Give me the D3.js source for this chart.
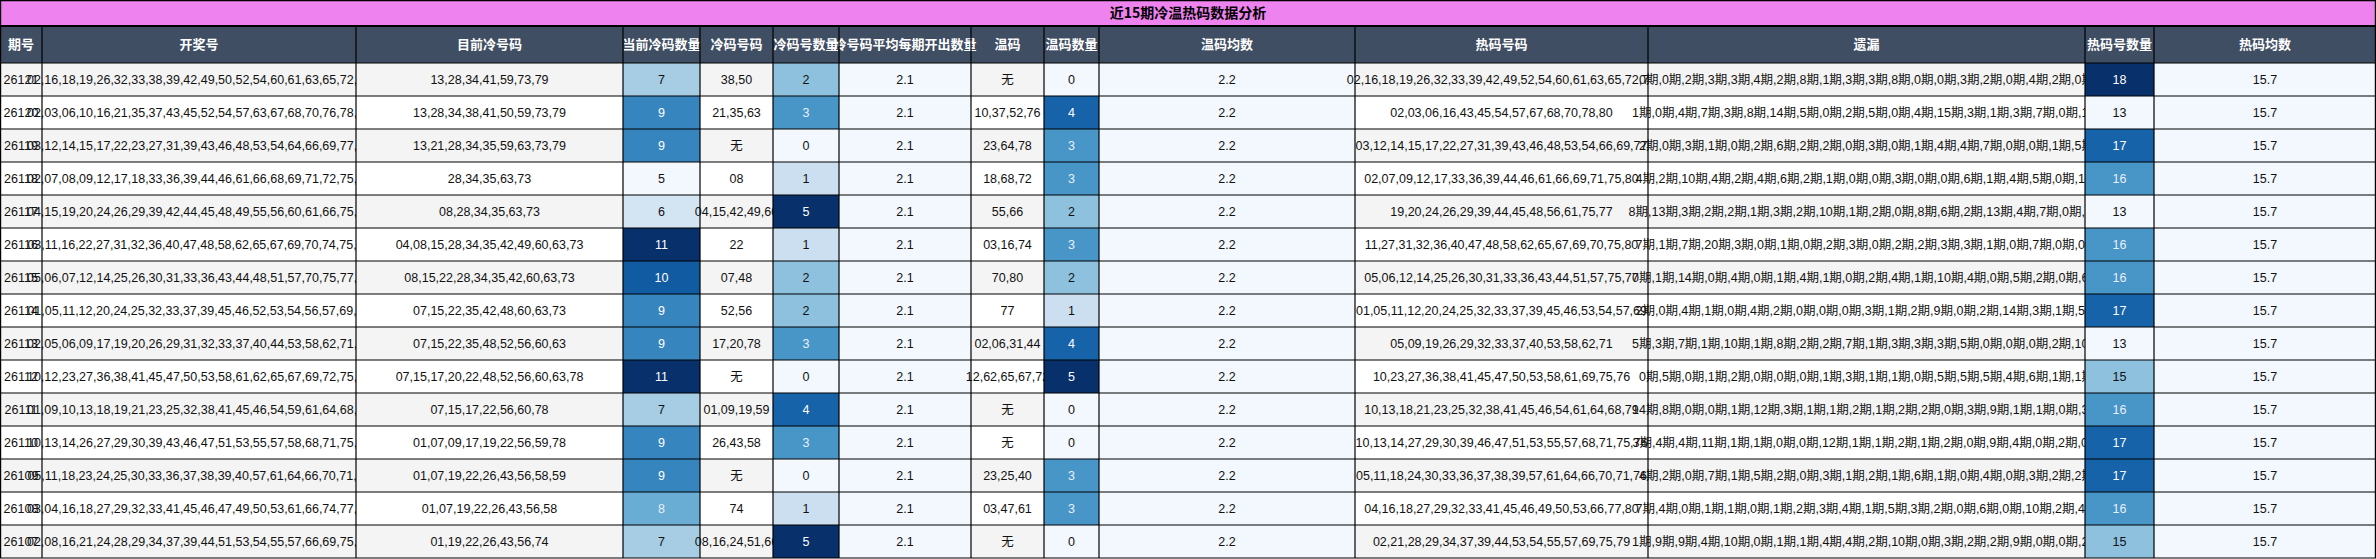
<!DOCTYPE html>
<html><head><meta charset="utf-8">
<script src="https://cdn.jsdelivr.net/npm/d3@7"></script>
<style>body{margin:0;background:#fff}</style></head>
<body><svg id="c" width="2376" height="559"></svg>
<script>
const title = "近15期冷温热码数据分析";
const headers = ["期号","开奖号","目前冷号码","当前冷码数量","冷码号码","冷码号数量","冷号码平均每期开出数量","温码","温码数量","温码均数","热码号码","遗漏","热码号数量","热码均数"];
const periods = ["26121","26120","26119","26118","26117","26116","26115","26114","26113","26112","26111","26110","26109","26108","26107"];
const draws = ["02,16,18,19,26,32,33,38,39,42,49,50,52,54,60,61,63,65,72,78","02,03,06,10,16,21,35,37,43,45,52,54,57,63,67,68,70,76,78,80","03,12,14,15,17,22,23,27,31,39,43,46,48,53,54,64,66,69,77,78","02,07,08,09,12,17,18,33,36,39,44,46,61,66,68,69,71,72,75,80","04,15,19,20,24,26,29,39,42,44,45,48,49,55,56,60,61,66,75,77","03,11,16,22,27,31,32,36,40,47,48,58,62,65,67,69,70,74,75,80","05,06,07,12,14,25,26,30,31,33,36,43,44,48,51,57,70,75,77,80","01,05,11,12,20,24,25,32,33,37,39,45,46,52,53,54,56,57,69,77","02,05,06,09,17,19,20,26,29,31,32,33,37,40,44,53,58,62,71,78","10,12,23,27,36,38,41,45,47,50,53,58,61,62,65,67,69,72,75,76","01,09,10,13,18,19,21,23,25,32,38,41,45,46,54,59,61,64,68,79","10,13,14,26,27,29,30,39,43,46,47,51,53,55,57,58,68,71,75,76","05,11,18,23,24,25,30,33,36,37,38,39,40,57,61,64,66,70,71,76","03,04,16,18,27,29,32,33,41,45,46,47,49,50,53,61,66,74,77,80","02,08,16,21,24,28,29,34,37,39,44,51,53,54,55,57,66,69,75,79"];
const currentCold = ["13,28,34,41,59,73,79","13,28,34,38,41,50,59,73,79","13,21,28,34,35,59,63,73,79","28,34,35,63,73","08,28,34,35,63,73","04,08,15,28,34,35,42,49,60,63,73","08,15,22,28,34,35,42,60,63,73","07,15,22,35,42,48,60,63,73","07,15,22,35,48,52,56,60,63","07,15,17,20,22,48,52,56,60,63,78","07,15,17,22,56,60,78","01,07,09,17,19,22,56,59,78","01,07,19,22,26,43,56,58,59","01,07,19,22,26,43,56,58","01,19,22,26,43,56,74"];
const currentColdCount = [7,9,9,5,6,11,10,9,9,11,7,9,9,8,7];
const coldNums = ["38,50","21,35,63","无","08","04,15,42,49,60","22","07,48","52,56","17,20,78","无","01,09,19,59","26,43,58","无","74","08,16,24,51,66"];
const coldCount = [2,3,0,1,5,1,2,2,3,0,4,3,0,1,5];
const coldAvg = Array(15).fill(2.1);
const warmNums = ["无","10,37,52,76","23,64,78","18,68,72","55,66","03,16,74","70,80","77","02,06,31,44","12,62,65,67,72","无","无","23,25,40","03,47,61","无"];
const warmCount = [0,4,3,3,2,3,2,1,4,5,0,0,3,3,0];
const warmAvg = Array(15).fill(2.2);
const hotNums = ["02,16,18,19,26,32,33,39,42,49,52,54,60,61,63,65,72,78","02,03,06,16,43,45,54,57,67,68,70,78,80","03,12,14,15,17,22,27,31,39,43,46,48,53,54,66,69,77","02,07,09,12,17,33,36,39,44,46,61,66,69,71,75,80","19,20,24,26,29,39,44,45,48,56,61,75,77","11,27,31,32,36,40,47,48,58,62,65,67,69,70,75,80","05,06,12,14,25,26,30,31,33,36,43,44,51,57,75,77","01,05,11,12,20,24,25,32,33,37,39,45,46,53,54,57,69","05,09,19,26,29,32,33,37,40,53,58,62,71","10,23,27,36,38,41,45,47,50,53,58,61,69,75,76","10,13,18,21,23,25,32,38,41,45,46,54,61,64,68,79","10,13,14,27,29,30,39,46,47,51,53,55,57,68,71,75,76","05,11,18,24,30,33,36,37,38,39,57,61,64,66,70,71,76","04,16,18,27,29,32,33,41,45,46,49,50,53,66,77,80","02,21,28,29,34,37,39,44,53,54,55,57,69,75,79"];
const omissions = ["0期,0期,2期,3期,3期,4期,2期,8期,1期,3期,3期,8期,0期,0期,3期,2期,0期,4期,2期,0期","1期,0期,4期,7期,3期,8期,14期,5期,0期,2期,5期,0期,4期,15期,3期,1期,3期,7期,0期,1期","2期,0期,3期,1期,0期,2期,6期,2期,2期,0期,3期,0期,1期,4期,4期,7期,0期,0期,1期,5期","4期,2期,10期,4期,2期,4期,6期,2期,1期,0期,0期,3期,0期,0期,6期,1期,4期,5期,0期,1期","8期,13期,3期,2期,2期,1期,3期,2期,10期,1期,2期,0期,8期,6期,2期,13期,4期,7期,0期,1期","7期,1期,7期,20期,3期,0期,1期,0期,2期,3期,0期,2期,2期,3期,3期,1期,0期,7期,0期,0期","0期,1期,14期,0期,4期,0期,1期,4期,1期,0期,2期,4期,1期,10期,4期,0期,5期,2期,0期,6期","2期,0期,4期,1期,0期,4期,2期,0期,0期,0期,3期,1期,2期,9期,0期,2期,14期,3期,1期,5期","5期,3期,7期,1期,10期,1期,8期,2期,2期,7期,1期,3期,3期,3期,5期,0期,0期,0期,2期,10期","0期,5期,0期,1期,2期,0期,0期,0期,1期,3期,1期,1期,0期,5期,5期,5期,4期,6期,1期,1期","14期,8期,0期,0期,1期,12期,3期,1期,1期,2期,1期,2期,2期,0期,3期,9期,1期,1期,0期,3期","3期,4期,4期,11期,1期,1期,0期,0期,12期,1期,1期,2期,1期,2期,0期,9期,4期,0期,2期,0期","4期,2期,0期,7期,1期,5期,2期,0期,3期,1期,2期,1期,6期,1期,0期,4期,0期,3期,2期,2期","7期,4期,0期,1期,1期,0期,1期,2期,3期,4期,1期,5期,3期,2期,0期,6期,0期,10期,2期,4期","1期,9期,9期,4期,10期,0期,1期,1期,4期,4期,2期,10期,0期,3期,2期,2期,9期,0期,0期,2期"];
const hotCount = [18,13,17,16,13,16,16,17,13,15,16,17,17,16,15];
const hotAvg = Array(15).fill(15.7);

// layout
const edges = [0,42,356,623,700,773,839,971,1044,1099,1355,1648,2085,2154,2376];
const W=2376, titleH=26, headH=37, topY=63, bottomY=558;
const svg = d3.select("#c");
const font = "'Liberation Sans Narrow','Liberation Sans',Arial,sans-serif";
const cjk = "'Noto Sans CJK SC',sans-serif";
const x = i=>edges[i], cw = i=>edges[i+1]-edges[i];
const y = d3.scaleBand().domain(periods).range([topY,bottomY]);

const cols = [periods,draws,currentCold,currentColdCount,coldNums,coldCount,coldAvg,warmNums,warmCount,warmAvg,hotNums,omissions,hotCount,hotAvg];
const heat = {3:currentColdCount,5:coldCount,6:coldAvg,8:warmCount,9:warmAvg,12:hotCount,13:hotAvg};
const scales = {};
for (const k in heat){ const e=d3.extent(heat[k]); scales[k]=d3.scaleLinear().domain(e[0]===e[1]?[e[0],e[0]+1]:e).range([0.02,1]); }

svg.append("rect").attr("x",0).attr("y",0).attr("width",W).attr("height",titleH).attr("fill","#ee82ee");
svg.append("text").attr("x",W/2).attr("y",titleH/2+1).attr("text-anchor","middle").attr("dominant-baseline","middle")
  .attr("font-family",cjk).attr("font-weight","bold").attr("font-size",14).text(title);
svg.append("rect").attr("x",0).attr("y",titleH).attr("width",W).attr("height",headH).attr("fill","#3f4e63");
headers.forEach((h,i)=>{
  svg.append("text").attr("x",x(i)+cw(i)/2).attr("y",titleH+headH/2+1).attr("text-anchor","middle").attr("dominant-baseline","middle")
   .attr("fill","#fff").attr("font-family",cjk).attr("font-weight","bold").attr("font-size",13).text(h);
});
periods.forEach((p,r)=>{
  const yy=y(p), h=y.bandwidth();
  cols.forEach((col,c)=>{
    let fill = r%2===0?"#f4f4f4":"#ffffff", tc="#111";
    if (heat[c]){ const t=scales[c](col[r]); fill=d3.interpolateBlues(t); if(t>0.5) tc = t>0.62?"#fff":"#e8f0f8"; }
    svg.append("rect").attr("x",x(c)).attr("y",yy).attr("width",cw(c)).attr("height",h).attr("fill",fill);
    const v = col[r];
    svg.append("text").attr("x",x(c)+cw(c)/2).attr("y",yy+h/2+1).attr("text-anchor","middle").attr("dominant-baseline","middle")
      .attr("fill",tc).attr("font-family",font+","+cjk).attr("font-size",12.5)
      .text(typeof v==="number"? (c===6||c===9||c===13? v.toFixed(1): v) : v);
  });
});
const g=svg.append("g").attr("stroke","#000").attr("stroke-width",1.2);
edges.forEach((e,i)=>{ const xx=Math.min(Math.max(e,0.6),W-0.6); g.append("line").attr("x1",xx).attr("x2",xx).attr("y1",i===0||i===edges.length-1?0:titleH).attr("y2",bottomY); });
[0,titleH,topY].concat(periods.map(p=>y(p)+y.bandwidth())).forEach(v=>{ const yy=Math.max(v,0.6); g.append("line").attr("x1",0).attr("x2",W).attr("y1",yy).attr("y2",yy).attr("stroke-width",v===titleH?2.2:1.2); });
</script></body></html>
